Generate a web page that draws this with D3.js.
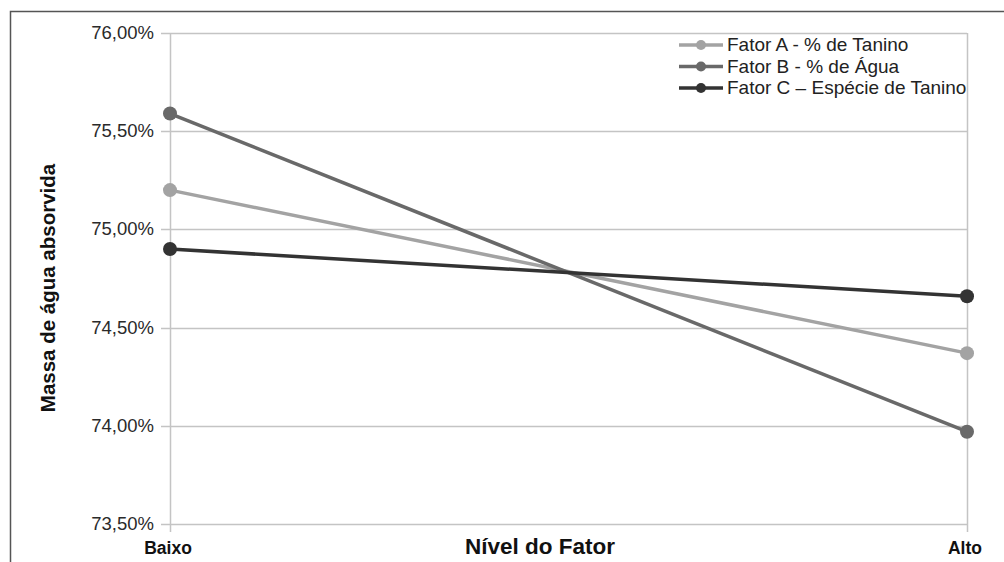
<!DOCTYPE html>
<html><head><meta charset="utf-8">
<script src="https://cdn.jsdelivr.net/npm/d3@7"></script>
<style>body{margin:0;background:#fff}svg{display:block}</style>
</head><body><svg id="c" width="1004" height="562"></svg>
<script>
const levels = ["Baixo", "Alto"];
const seriesNames = ["Fator A - % de Tanino", "Fator B - % de Água", "Fator C – Espécie de Tanino"];
const valuesA = [75.20, 74.37];
const valuesB = [75.59, 73.97];
const valuesC = [74.90, 74.66];
const yTicks = [73.5, 74.0, 74.5, 75.0, 75.5, 76.0];
const colors = ["#a3a3a3", "#696969", "#333333"];

(function () {
const svg = d3.select("#c");
const font = "'Liberation Sans', Arial, sans-serif";
const pL = 170, pR = 967, pT = 33, pB = 524;

// frame
svg.append("path").attr("d", "M10.5,562 V11.5 H1004").attr("fill", "none")
  .attr("stroke", "#555").attr("stroke-width", 1.5);

const x = d3.scalePoint().domain(levels).range([pL, pR]);
const y = d3.scaleLinear().domain([73.5, 76.0]).range([pB, pT]);

// gridlines
svg.append("g").selectAll("line").data(yTicks).join("line")
  .attr("x1", pL - 9).attr("x2", pR).attr("y1", d => Math.round(y(d)) + 0.5).attr("y2", d => Math.round(y(d)) + 0.5)
  .attr("stroke", "#c4c4c4").attr("stroke-width", 1.5);
// vertical lines
svg.append("g").selectAll("line").data(levels).join("line")
  .attr("x1", d => x(d) + 0.5).attr("x2", d => x(d) + 0.5).attr("y1", pT).attr("y2", pB + 8)
  .attr("stroke", "#c4c4c4").attr("stroke-width", 1.5);

// y tick labels
const fmt = v => d3.format(".2f")(v).replace(".", ",") + "%";
svg.append("g").selectAll("text").data(yTicks).join("text")
  .attr("x", 154).attr("y", d => y(d) + 6).attr("text-anchor", "end")
  .attr("font-family", font).attr("font-size", 18.5).attr("fill", "#2a2a2a").text(fmt);

// x labels
svg.append("g").selectAll("text").data(levels).join("text")
  .attr("x", d => x(d) - 2).attr("y", 554).attr("text-anchor", "middle")
  .attr("font-family", font).attr("font-size", 17.5).attr("font-weight", "bold").attr("fill", "#111").text(d => d);

svg.append("text").attr("x", 540).attr("y", 554).attr("text-anchor", "middle")
  .attr("font-family", font).attr("font-size", 22.5).attr("font-weight", "bold").attr("fill", "#111").text("Nível do Fator");

svg.append("text").attr("transform", "translate(55,288) rotate(-90)").attr("text-anchor", "middle")
  .attr("font-family", font).attr("font-size", 20.5).attr("font-weight", "bold").attr("fill", "#111").text("Massa de água absorvida");

// series
const all = [valuesA, valuesB, valuesC];
const line = d3.line().x((d, i) => x(levels[i])).y(d => y(d));
all.forEach((vals, si) => {
  const g = svg.append("g");
  g.append("path").attr("d", line(vals)).attr("fill", "none").attr("stroke", colors[si]).attr("stroke-width", 3.5);
  g.selectAll("circle").data(vals).join("circle")
    .attr("cx", (d, i) => x(levels[i])).attr("cy", d => y(d)).attr("r", 7).attr("fill", colors[si]);
});

// legend
const lg = svg.append("g");
seriesNames.forEach((n, i) => {
  const ly = 45 + i * 21.5;
  lg.append("line").attr("x1", 679).attr("x2", 723).attr("y1", ly).attr("y2", ly).attr("stroke", colors[i]).attr("stroke-width", 3.5);
  lg.append("circle").attr("cx", 701).attr("cy", ly).attr("r", 5).attr("fill", colors[i]);
  lg.append("text").attr("x", 727).attr("y", ly + 6).attr("font-family", font).attr("font-size", 19).attr("fill", "#222").text(n);
});
})();
</script></body></html>
